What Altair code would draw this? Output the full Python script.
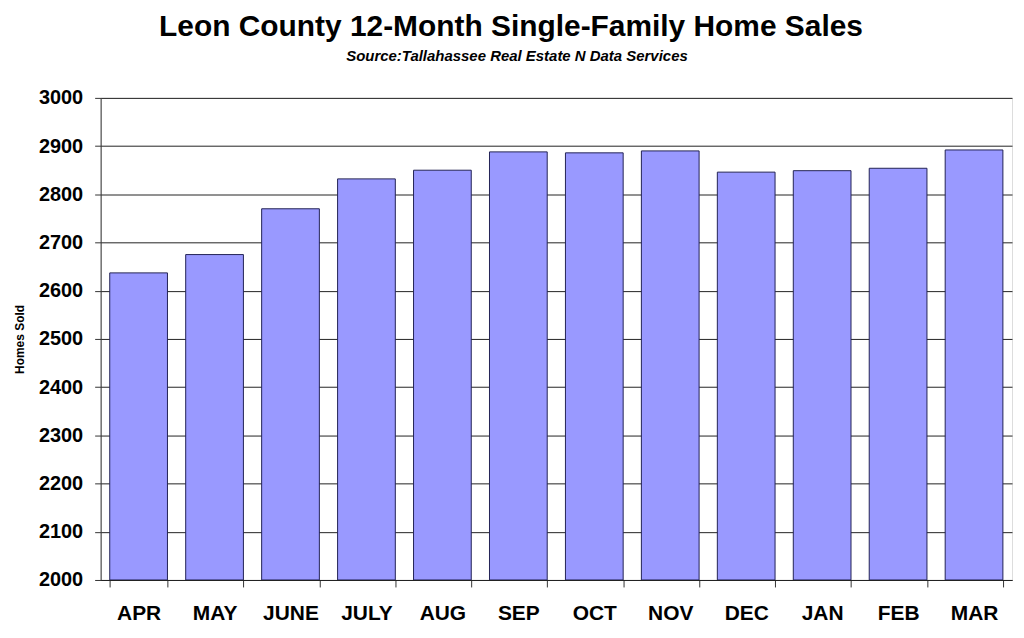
import altair as alt
import pandas as pd

months = ["APR", "MAY", "JUNE", "JULY", "AUG", "SEP", "OCT", "NOV", "DEC", "JAN", "FEB", "MAR"]
sales = [2637, 2675, 2770, 2832, 2850, 2888, 2886, 2890, 2846, 2849, 2854, 2892]
y_ticks = [2000, 2100, 2200, 2300, 2400, 2500, 2600, 2700, 2800, 2900, 3000]
title_text = "Leon County 12-Month Single-Family Home Sales"
subtitle_text = "Source:Tallahassee Real Estate N Data Services"

df = pd.DataFrame({"month": months, "sales": sales})
FONT = "Liberation Sans"

bars = alt.Chart(df).mark_bar(
    color="#9999FF", stroke="#222255", strokeWidth=1, clip=True
).encode(
    x=alt.X("month:N", sort=months,
            scale=alt.Scale(paddingInner=0.24, paddingOuter=0.12),
            axis=alt.Axis(title=None, labelAngle=0, labelFont=FONT, labelFontSize=21,
                          labelFontWeight="bold", labelColor="#000", labelPadding=16,
                          tickBand="extent", tickSize=7, tickColor="#333",
                          domainColor="#222", grid=False)),
    y=alt.Y("sales:Q",
            scale=alt.Scale(domain=[2000, 3000], nice=False, zero=False),
            axis=alt.Axis(title="Homes Sold", values=y_ticks, format="d",
                          labelFont=FONT, labelFontSize=20,
                          labelFontWeight="bold", labelColor="#000", labelPadding=12,
                          tickSize=6, tickColor="#333", domainColor="#333",
                          grid=True, gridColor="#222", gridWidth=1,
                          titleFont=FONT, titleFontSize=12, titleFontWeight="bold",
                          titleColor="#000", titleX=-81, titleY=242, titleAngle=-90,
                          titleAlign="center", titleBaseline="middle")),
    y2=alt.Y2(datum=2000),
)

title = alt.Chart(pd.DataFrame({"t": [title_text]})).mark_text(
    font=FONT, fontSize=30, fontWeight="bold", color="#000", baseline="alphabetic", align="center"
).encode(text="t:N", x=alt.value(412), y=alt.value(-62))

subtitle = alt.Chart(pd.DataFrame({"t": [subtitle_text]})).mark_text(
    font=FONT, fontSize=15, fontWeight="bold", fontStyle="italic", color="#000",
    baseline="alphabetic", align="center"
).encode(text="t:N", x=alt.value(418), y=alt.value(-37))

chart = alt.layer(bars, title, subtitle).properties(
    width=915, height=484,
    autosize=alt.AutoSizeParams(type="none"),
    padding={"left": 93, "top": 89, "right": 4, "bottom": 56},
).configure_view(stroke="#333", strokeWidth=1).configure(background="white")

chart.save("out.html", embed_options={"renderer": "svg", "actions": False})
